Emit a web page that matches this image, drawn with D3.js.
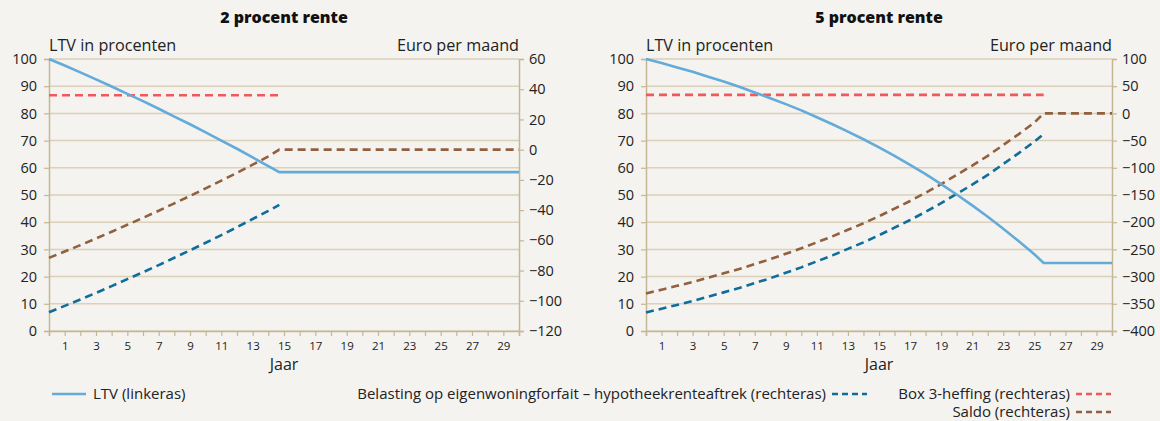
<!DOCTYPE html>
<html>
<head>
<meta charset="utf-8">
<script src="https://cdn.jsdelivr.net/npm/d3@7"></script>
<style>
  body { margin: 0; background: #f4f3ef; }
  svg { display: block; font-family: "Open Sans", Lato, sans-serif; }
</style>
</head>
<body>
<div id="chart"></div>
<script>
// 2 procent rente
const jaren2 = [0, 1, 2, 3, 4, 5, 6, 7, 8, 9, 10, 11, 12, 13, 14, 14.7, 30];
const ltv2 = [100, 97.6, 95.1, 92.5, 89.9, 87.2, 84.5, 81.7, 78.8, 76.0, 73.0, 70.0, 67.0, 63.8, 60.6, 58.4, 58.4];
const belasting2 = [-107.6, -103.4, -99.2, -94.8, -90.3, -85.7, -81.1, -76.4, -71.5, -66.6, -61.6, -56.5, -51.3, -45.9, -40.5, -36.6, null];
const box3_2 = [36, 36, 36, 36, 36, 36, 36, 36, 36, 36, 36, 36, 36, 36, 36, 36, null];
const saldo2 = [-71.6, -67.4, -63.2, -58.8, -54.3, -49.7, -45.1, -40.4, -35.5, -30.6, -25.6, -20.5, -15.3, -9.9, -4.5, 0, 0];

// 5 procent rente
const jaren5 = [0, 1, 2, 3, 4, 5, 6, 7, 8, 9, 10, 11, 12, 13, 14, 15, 16, 17, 18, 19, 20, 21, 22, 23, 24, 25, 25.6, 30];
const ltv5 = [100, 98.5, 96.9, 95.3, 93.5, 91.7, 89.8, 87.7, 85.6, 83.4, 81.1, 78.6, 76.0, 73.3, 70.5, 67.5, 64.4, 61.1, 57.7, 54.0, 50.2, 46.2, 42.0, 37.6, 33.0, 28.2, 25.0, 25.0];
const belasting5 = [-366, -359, -352, -345, -337, -329, -321, -312, -303, -293, -283, -272, -261, -249, -237, -224, -210, -196, -181, -165, -148, -131, -113, -93, -73, -52, -38, null];
const box3_5 = [34, 34, 34, 34, 34, 34, 34, 34, 34, 34, 34, 34, 34, 34, 34, 34, 34, 34, 34, 34, 34, 34, 34, 34, 34, 34, 34, null];
const saldo5 = [-331, -324, -317, -310, -302, -294, -286, -277, -268, -258, -248, -237, -226, -214, -202, -189, -175, -161, -146, -130, -113, -96, -78, -58, -38, -17, 0, 0];

const linksTicks = d3.range(0, 101, 10);
const rechtsTicks2 = d3.range(-120, 61, 20);
const rechtsTicks5 = d3.range(-400, 101, 50);

const colors = {
    ltv: '#63abd8',
    belasting: '#0f6d9c',
    box3: '#f0595a',
    saldo: '#90603f',
    axis: '#c6b694',
    grid: '#dbd0b9'
};

const svg = d3.select('#chart').append('svg')
    .attr('width', 1160)
    .attr('height', 421);

svg.append('rect').attr('width', 1160).attr('height', 421).attr('fill', '#f4f3ef');

function drawPanel(opts) {
    const top = 59, bottom = 331;
    const x = d3.scaleLinear().domain([0, 30]).range([opts.x0, opts.x1]);
    const yL = d3.scaleLinear().domain([0, 100]).range([bottom, top]);
    const yR = d3.scaleLinear().domain(opts.rechtsDomain).range([bottom, top]);
    const g = svg.append('g');
    const mid = (opts.x0 + opts.x1) / 2;

    g.append('text')
        .attr('x', mid).attr('y', 23)
        .attr('text-anchor', 'middle')
        .attr('font-size', 16).attr('font-weight', 800)
        .attr('fill', '#111')
        .text(opts.title);

    g.append('text')
        .attr('x', opts.x0).attr('y', 51)
        .attr('font-size', 16.2).attr('fill', '#222')
        .text('LTV in procenten');
    g.append('text')
        .attr('x', opts.x1).attr('y', 51)
        .attr('text-anchor', 'end')
        .attr('font-size', 16.2).attr('fill', '#222')
        .text('Euro per maand');

    // gridlines
    g.selectAll('line.grid')
        .data(linksTicks)
        .enter()
        .append('line')
        .attr('class', 'grid')
        .attr('x1', opts.x0).attr('x2', opts.x1)
        .attr('y1', d => yL(d)).attr('y2', d => yL(d))
        .attr('stroke', colors.grid)
        .attr('stroke-width', 1.5);

    const leftAxis = g.append('g')
        .attr('transform', `translate(${opts.x0},0)`)
        .call(d3.axisLeft(yL).tickValues(linksTicks).tickSize(5).tickPadding(7));
    const rightAxis = g.append('g')
        .attr('transform', `translate(${opts.x1},0)`)
        .call(d3.axisRight(yR).tickValues(opts.rechtsTicks).tickSize(5).tickPadding(5));
    const bottomAxis = g.append('g')
        .attr('transform', `translate(0,${bottom})`)
        .call(d3.axisBottom(x).tickValues(d3.range(0, 31)).tickSize(5).tickPadding(6)
            .tickFormat(d => d % 2 ? d : ''));

    [leftAxis, rightAxis, bottomAxis].forEach(a => {
        a.select('.domain').attr('stroke', colors.axis).attr('stroke-width', 1.5);
        a.selectAll('.tick line').attr('stroke', colors.axis).attr('stroke-width', 1.2);
        a.selectAll('text').attr('fill', '#222').attr('font-family', '"Open Sans", sans-serif');
    });
    leftAxis.selectAll('text').attr('font-size', 14.5);
    rightAxis.selectAll('text').attr('font-size', 14.5);
    bottomAxis.selectAll('text').attr('font-size', 11.5);

    g.append('text')
        .attr('x', mid).attr('y', 370)
        .attr('text-anchor', 'middle')
        .attr('font-size', 16).attr('fill', '#222')
        .text('Jaar');

    const lineL = d3.line()
        .defined(d => d[1] !== null)
        .x(d => x(d[0])).y(d => yL(d[1]));
    const lineR = d3.line()
        .defined(d => d[1] !== null)
        .x(d => x(d[0])).y(d => yR(d[1]));
    const zip = vals => opts.jaren.map((j, i) => [j, vals[i]]);

    const series = [
        { vals: opts.box3, color: colors.box3, dash: '8,5', line: lineR },
        { vals: opts.saldo, color: colors.saldo, dash: '8,5', line: lineR },
        { vals: opts.belasting, color: colors.belasting, dash: '8,5', line: lineR },
        { vals: opts.ltv, color: colors.ltv, dash: null, line: lineL }
    ];
    series.forEach(s => {
        g.append('path')
            .datum(zip(s.vals))
            .attr('d', s.line)
            .attr('fill', 'none')
            .attr('stroke', s.color)
            .attr('stroke-width', 2.6)
            .attr('stroke-dasharray', s.dash);
    });
}

drawPanel({
    title: '2 procent rente', x0: 49, x1: 519,
    rechtsDomain: [-120, 60], rechtsTicks: rechtsTicks2,
    jaren: jaren2, ltv: ltv2, belasting: belasting2, box3: box3_2, saldo: saldo2
});
drawPanel({
    title: '5 procent rente', x0: 646, x1: 1112,
    rechtsDomain: [-400, 100], rechtsTicks: rechtsTicks5,
    jaren: jaren5, ltv: ltv5, belasting: belasting5, box3: box3_5, saldo: saldo5
});

// legend
const legend = svg.append('g').attr('font-size', 15).attr('fill', '#222');
function legendItem(textX, y, sx1, sx2, label, color, dash, anchor) {
    legend.append('line')
        .attr('x1', sx1).attr('x2', sx2).attr('y1', y).attr('y2', y)
        .attr('stroke', color).attr('stroke-width', 2.6)
        .attr('stroke-dasharray', dash);
    legend.append('text')
        .attr('x', textX).attr('y', y + 5)
        .attr('text-anchor', anchor)
        .text(label);
}
legendItem(93, 394, 52, 86, 'LTV (linkeras)', colors.ltv, null, 'start');
legendItem(826, 394, 832, 867, 'Belasting op eigenwoningforfait \u2013 hypotheekrenteaftrek (rechteras)', colors.belasting, '6,4', 'end');
legendItem(1070, 394, 1076, 1111, 'Box 3-heffing (rechteras)', colors.box3, '6,4', 'end');
legendItem(1070, 412, 1076, 1111, 'Saldo (rechteras)', colors.saldo, '6,4', 'end');
</script>
</body>
</html>
